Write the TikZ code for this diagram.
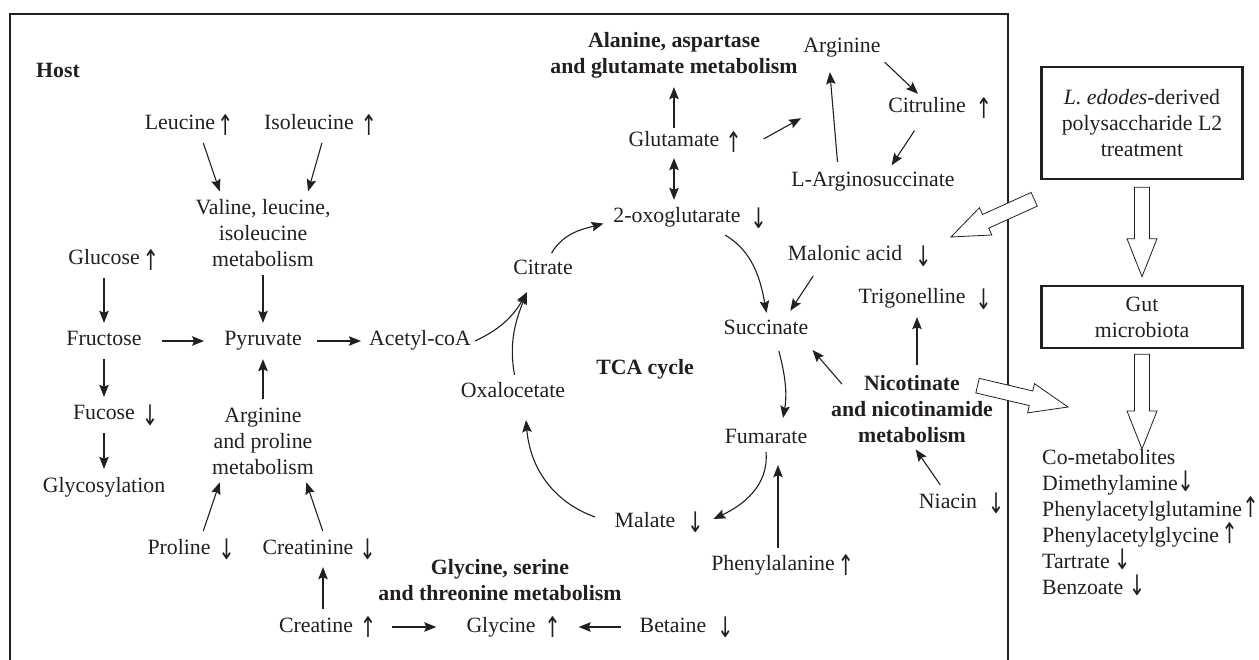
\documentclass[tikz,border=0pt]{standalone}
\usepackage{fontspec}
\usepackage{graphicx}
\setmainfont{Liberation Serif}
\newfontfamily\arrfont{DejaVu Sans}
\usetikzlibrary{arrows.meta,calc}

\definecolor{ink}{RGB}{35,31,32}

\newcommand{\upa}{\raisebox{-1.5pt}{\scalebox{0.9}[1.3]{\arrfont ↑}}}
\newcommand{\dna}{\raisebox{-1.5pt}{\scalebox{0.9}[1.3]{\arrfont ↓}}}

\newcommand{\fatarrow}[2]{%
  \coordinate (fas) at #1;
  \coordinate (fae) at #2;
  \coordinate (fah) at ($(fae)!38pt!(fas)$);
  \draw[hollow] ($(fas)!7.5pt!90:(fae)$) -- ($(fah)!7.5pt!-90:(fas)$)
    -- ($(fah)!15pt!-90:(fas)$) -- (fae) -- ($(fah)!15pt!90:(fas)$)
    -- ($(fah)!7.5pt!90:(fas)$) -- ($(fas)!7.5pt!-90:(fae)$) -- cycle;}

\begin{document}
\begin{tikzpicture}[x=1pt, y=-1pt,
  base/.style={font=\fontsize{21.8}{26}\selectfont, text=ink, align=center, inner sep=4pt},
  txt/.style={base, text height=15pt, text depth=5pt},
  bfbase/.style={base, font=\fontsize{21.8}{26}\selectfont\bfseries},
  bftxt/.style={bfbase, text height=15pt, text depth=5pt},
  arrlab/.style={font=\fontsize{21.8}{26}\selectfont, text=ink, inner sep=0pt},
  incr/.style={label={[arrlab, label distance=#1]right:\upa}}, incr/.default=0pt,
  decr/.style={label={[arrlab, label distance=#1]right:\dna}}, decr/.default=0pt,
  arr/.style={-{Stealth[length=12pt, width=9.5pt, inset=2pt]}, line width=1.1pt, draw=ink},
  dbl/.style={arr, {Stealth[length=12pt, width=9.5pt, inset=2pt]}-{Stealth[length=12pt, width=9.5pt, inset=2pt]}},
  frame/.style={line width=2.6pt, draw=ink},
  hollow/.style={draw=ink, line width=0.8pt, fill=white, line join=miter},
  box/.style={base, draw=ink, line width=2.6pt, minimum width=201pt}]
\useasboundingbox (0,0) rectangle (1259,660);
\draw[frame] (10,700) |- (1008,14) -- (1008,700);

\node[bftxt] (host) at (58,73) {Host};
\node[txt, incr=-2.5pt] (leu) at (180,125) {Leucine};
\node[txt, incr=2.5pt] (ile) at (309,125) {Isoleucine};
\node[base] (val) at (263,233) {Valine, leucine,\\isoleucine\\metabolism};
\node[txt, incr=-1.5pt] (glc) at (104,260) {Glucose};
\node[txt] (fru) at (104,341) {Fructose};
\node[txt] (pyr) at (263,341) {Pyruvate};
\node[txt] (acc) at (420,341) {Acetyl-coA};
\node[txt, decr=2.5pt] (fuc) at (104,415) {Fucose};
\node[txt] (gly) at (104,487) {Glycosylation};
\node[base] (apm) at (263,441) {Arginine\\and proline\\metabolism};
\node[txt, decr=3.5pt] (pro) at (179,549) {Proline};
\node[txt, decr=1.5pt] (crn) at (308,549) {Creatinine};
\node[txt, incr=2.5pt] (crt) at (316,627) {Creatine};
\node[bfbase] (gsm) at (500,580) {Glycine, serine\\and threonine metabolism};
\node[txt, incr=4.5pt] (glyc) at (501,627) {Glycine};
\node[txt, decr=6.5pt] (bet) at (673,627) {Betaine};
\node[txt] (oxa) at (513,392) {Oxalocetate};
\node[bftxt] (tca) at (645,369) {TCA cycle};
\node[txt, decr=7.5pt] (mal) at (645,522) {Malate};
\node[txt] (cit) at (543,270) {Citrate};
\node[txt, decr=5.5pt] (oxo) at (677,218) {2-oxoglutarate};
\node[txt, incr=1.5pt] (glu) at (674,142) {Glutamate};
\node[bfbase] (agm) at (674,55) {Alanine, aspartase\\and glutamate metabolism};
\node[txt] (arg) at (842,48) {Arginine};
\node[txt, incr=5.5pt] (ctl) at (927,108) {Citruline};
\node[txt] (asu) at (873,182) {L-Arginosuccinate};
\node[txt, decr=8.5pt] (mlo) at (845,256) {Malonic acid};
\node[txt, decr=5.5pt] (trg) at (912,299) {Trigonelline};
\node[txt] (suc) at (766,330) {Succinate};
\node[txt] (fum) at (766,438) {Fumarate};
\node[txt, incr=-1.5pt] (phe) at (773,565) {Phenylalanine};
\node[bfbase] (nic) at (912,409) {Nicotinate\\and nicotinamide\\metabolism};
\node[txt, decr=6.5pt] (nia) at (948,503) {Niacin};
\node[box, minimum height=112pt] (trt) at (1142,123) {\textit{L. edodes}-derived\\polysaccharide L2\\treatment};
\node[box, minimum height=62pt] (gut) at (1142,317) {Gut\\microbiota};
\node[base, align=left, anchor=north west, inner sep=0pt] (com) at (1042,449)
  {Co-metabolites\\Dimethylamine\kern-0.5pt\dna\\Phenylacetylglutamine\kern0.5pt\upa\\Phenylacetylglycine\kern2.5pt\upa\\Tartrate\kern4.5pt\dna\\Benzoate\kern5.5pt\dna};
\coordinate (hosttip) at (951,237);

\draw[arr, shorten <=4pt, shorten >=4pt] ([xshift=22pt]leu.south) -- ([xshift=-42pt]val.north);
\draw[arr, shorten <=4pt, shorten >=4pt] ([xshift=14pt]ile.south) -- ([xshift=44pt]val.north);
\draw[arr, shorten <=4pt, shorten >=4pt] (glc) -- (fru);
\draw[arr, shorten <=4pt, shorten >=4pt] (val) -- (pyr);
\draw[arr, shorten <=16pt, shorten >=16pt] (fru) -- (pyr);
\draw[arr, shorten <=11pt, shorten >=4pt] (pyr) -- (acc);
\draw[arr, shorten <=4pt, shorten >=4pt] (fru) -- (fuc);
\draw[arr, shorten <=4pt, shorten >=4pt] (fuc) -- (gly);
\draw[arr, shorten <=4pt, shorten >=4pt] (apm) -- (pyr);
\draw[arr, shorten <=4pt, shorten >=4pt] ([xshift=23pt]pro.north) -- ([xshift=-42pt]apm.south);
\draw[arr, shorten <=4pt, shorten >=4pt] ([xshift=16pt]crn.north) -- ([xshift=42pt]apm.south);
\draw[arr, shorten <=4pt, shorten >=4pt] ([xshift=7pt]crt.north) -- ([xshift=15pt]crn.south);
\draw[arr, shorten <=35pt, shorten >=26pt] (crt) -- (glyc);
\draw[arr, shorten <=15pt, shorten >=39pt] (bet) -- (glyc);
\draw[arr] ([shift={(-50pt,5pt)}]mal.center) to[out=160, in=-85] ([xshift=13pt, yshift=-14pt]oxa.south);
\draw[arr] (fum.south) to[out=-85, in=25] ([shift={(34pt,3pt)}]mal.east);
\draw[arr, shorten <=7pt, shorten >=6pt] ([xshift=11pt]suc.south) to[out=-75, in=80] ([xshift=16pt]fum.north);
\draw[arr, shorten <=6pt, shorten >=3pt] ([xshift=43pt]oxo.south) to[out=-30, in=100] ([xshift=1pt]suc.north);
\draw[arr, shorten <=3pt, shorten >=6pt] ([xshift=7pt]cit.north) to[out=60, in=195] ([yshift=-4pt]oxo.west);
\draw[arr] (acc.east) to[out=25, in=-120] ([shift={(-16pt,-8pt)}]cit.south);
\draw[arr, shorten <=3pt] ([xshift=2pt]oxa.north) to[out=100, in=-112] ([shift={(-16pt,-8pt)}]cit.south);
\draw[arr, shorten >=5pt] (glu) -- (agm);
\draw[dbl, shorten <=2pt, shorten >=4pt] (glu.south) -- (glu.south |- oxo.north);
\draw[arr] ([shift={(40pt,3pt)}]glu.east) -- ([shift={(-41pt,-56pt)}]arg.south);
\draw[arr, shorten <=6pt, shorten >=10pt] ([xshift=-35pt]asu.north) -- ([xshift=-13pt]arg.south);
\draw[arr] (arg.south east) -- ([xshift=-9pt]ctl.north);
\draw[arr, shorten <=10pt, shorten >=3pt] ([xshift=-7pt]ctl.south) -- ([xshift=17pt]asu.north);
\draw[arr, shorten <=7pt, shorten >=6pt] ([xshift=-28pt]mlo.south) -- ([xshift=21pt]suc.north);
\draw[arr] ([shift={(-70pt,-13pt)}]nic.north) -- ([yshift=-20pt]suc.east);
\draw[arr, shorten <=6pt, shorten >=4pt] ([xshift=5pt]nic.north) -- ([xshift=5pt]trg.south);
\draw[arr, shorten <=5pt, shorten >=3pt] ([xshift=-5pt]nia.north) -- ([xshift=2pt]nic.south);
\draw[arr, shorten <=3pt, shorten >=13pt] ([xshift=5pt]phe.north) -- ([xshift=12pt]fum.south);

\fatarrow{([shift={(-6pt,-19pt)}]trt.south west)}{(hosttip)}
\fatarrow{([yshift=-7pt]trt.south)}{([yshift=8pt]gut.north)}
\fatarrow{([yshift=-5pt]gut.south)}{(gut.south |- com.north)}
\fatarrow{([shift={(-19.5pt,-14.5pt)}]nic.north east)}{([shift={(26pt,42pt)}]com.north west)}
\end{tikzpicture}
\end{document}
